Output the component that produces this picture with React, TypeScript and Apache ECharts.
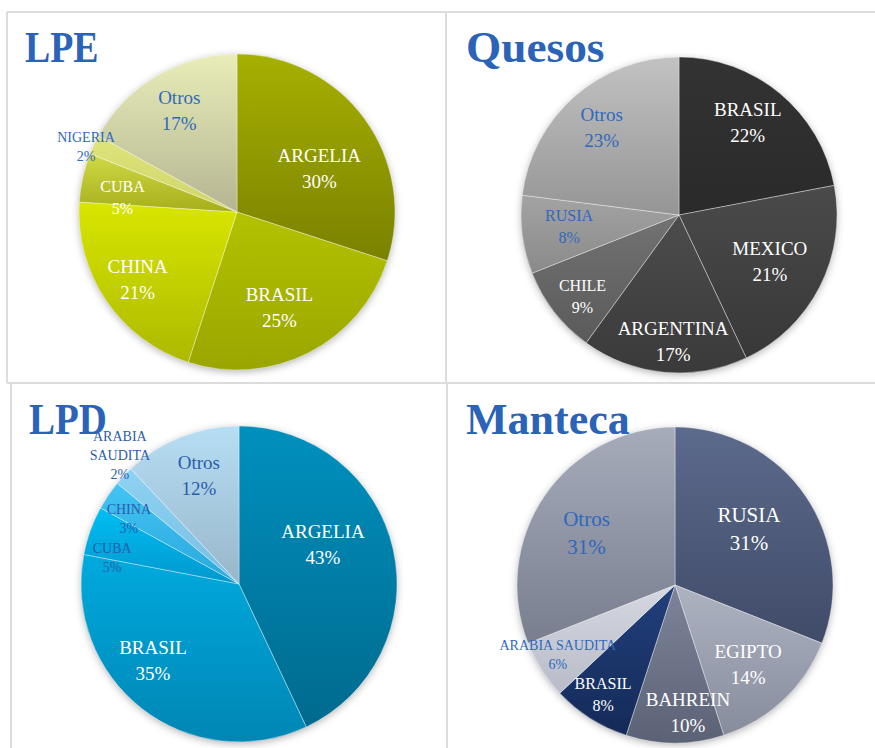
import React, { useEffect, useRef } from "react";
import * as echarts from "echarts";

// ---------- DATA ----------
const LPE_NAMES = ["ARGELIA", "BRASIL", "CHINA", "CUBA", "NIGERIA", "Otros"];
const LPE_VALUES = [30, 25, 21, 5, 2, 17];

const QUESOS_NAMES = ["BRASIL", "MEXICO", "ARGENTINA", "CHILE", "RUSIA", "Otros"];
const QUESOS_VALUES = [22, 21, 17, 9, 8, 23];

const LPD_NAMES = ["ARGELIA", "BRASIL", "CUBA", "CHINA", "ARABIA\nSAUDITA", "Otros"];
const LPD_VALUES = [43, 35, 5, 3, 2, 12];

const MANTECA_NAMES = ["RUSIA", "EGIPTO", "BAHREIN", "BRASIL", "ARABIA SAUDITA", "Otros"];
const MANTECA_VALUES = [31, 14, 10, 8, 6, 31];

const TITLES = ["LPE", "Quesos", "LPD", "Manteca"];

// ---------- STYLES ----------
const FONT = "'Liberation Serif', 'Times New Roman', serif";
const TITLE_COLOR = "#2a63b8";
const BLUE = "#2f68bd";
const WHITE = "#ffffff";
const R = 158;

const LPE_COLORS: [string, string][] = [
  ["#a6b000", "#7a8100"],
  ["#b3c200", "#9aa600"],
  ["#d9e600", "#acb900"],
  ["#d0d946", "#a6ae1c"],
  ["#dde47a", "#cfd56a"],
  ["#e8edb8", "#b5b592"],
];
const QUESOS_COLORS: [string, string][] = [
  ["#333333", "#2a2a2a"],
  ["#4a4a4a", "#383838"],
  ["#4c4c4c", "#3a3a3a"],
  ["#727272", "#5a5a5a"],
  ["#a3a3a3", "#8a8a8a"],
  ["#c2c2c2", "#959595"],
];
const LPD_COLORS: [string, string][] = [
  ["#0090be", "#006a8e"],
  ["#00aade", "#0086b4"],
  ["#00bef4", "#0098cc"],
  ["#42c4f4", "#2aa8dc"],
  ["#8fd2f2", "#78bee4"],
  ["#b6def4", "#98b6ca"],
];
const MANTECA_COLORS: [string, string][] = [
  ["#5c6a8c", "#404b68"],
  ["#aeb3c2", "#868c9c"],
  ["#7e8499", "#5c6276"],
  ["#22407c", "#142a58"],
  ["#d6d8e0", "#b8bcc8"],
  ["#a6acba", "#787e8e"],
];

// label style per slice: [fontSize, color]
const LPE_LABEL: [number, string][] = [[19, WHITE], [19, WHITE], [19, WHITE], [16, WHITE], [14, BLUE], [19, BLUE]];
const QUESOS_LABEL: [number, string][] = [[19, WHITE], [19, WHITE], [19, WHITE], [16, WHITE], [16, BLUE], [19, BLUE]];
const LPD_LABEL: [number, string][] = [[19, WHITE], [19, WHITE], [14, "#2a5cab"], [14, "#2a5cab"], [14, "#2a5cab"], [19, "#2a5cab"]];
const MANTECA_LABEL: [number, string][] = [[21, WHITE], [19, WHITE], [19, WHITE], [16, WHITE], [14, BLUE], [21, BLUE]];

// label placement per slice: [radius fraction, angle shift in degrees]
const LPE_PLACE: [number, number][] = [[0.59, 8], [0.66, 3], [0.76, 0], [0.73, -5.6], [1.04, -2], [0.74, 1]];
const QUESOS_PLACE: [number, number][] = [[0.73, -3], [0.645, 0], [0.8, -2.7], [0.8, -2.4], [0.7, 1], [0.74, 0]];
const LPD_PLACE: [number, number][] = [[0.587, -12.6], [0.727, 10.7], [0.82, -8], [0.81, -3.6], [1.11, 4], [0.735, 1.4]];
const MANTECA_PLACE: [number, number][] = [[0.587, -3], [0.683, 0.6], [0.81, -5.8], [0.827, 1], [0.865, 1.4], [0.65, -3.7]];

const CENTERS: [number, number][] = [
  [237, 212],
  [679, 215],
  [239, 584],
  [675, 585],
];
const TITLE_POS: [number, number][] = [
  [25, 47],
  [466, 47],
  [29, 419],
  [466, 419],
];
const TITLE_SCALE_X = [0.86, 1.03, 0.885, 1.0];

function buildSeries(
  names: string[],
  values: number[],
  colors: [string, string][],
  labels: [number, string][],
  place: [number, number][],
  center: [number, number]
) {
  const total = values.reduce((a, b) => a + b, 0);
  return {
    type: "pie",
    center,
    radius: R,
    startAngle: 90,
    clockwise: true,
    z: 3,
    label: {
      show: true,
      position: "inside",
      formatter: "{b}\n{d}%",
      fontFamily: FONT,
      align: "center",
    },
    labelLine: { show: false },
    labelLayout: (params: any) => {
      const i = params.dataIndex;
      let cum = 0;
      for (let k = 0; k < i; k++) cum += values[k];
      const mid = ((cum + values[i] / 2) / total) * 360 + place[i][1];
      const rad = (mid * Math.PI) / 180;
      return {
        x: center[0] + place[i][0] * R * Math.sin(rad),
        y: center[1] - place[i][0] * R * Math.cos(rad),
        align: "center",
        verticalAlign: "middle",
      };
    },
    itemStyle: {
      borderColor: "rgba(255,255,255,0.45)",
      borderWidth: 0.8,
    },
    emphasis: { disabled: true },
    data: names.map((n, i) => ({
      name: n,
      value: values[i],
      itemStyle: {
        color: new echarts.graphic.LinearGradient(0, 0, 0, 1, [
          { offset: 0, color: colors[i][0] },
          { offset: 1, color: colors[i][1] },
        ]),
      },
      label: {
        fontSize: labels[i][0],
        color: labels[i][1],
        lineHeight: Math.round(labels[i][0] * 1.35),
      },
    })),
  };
}

export default function App() {
  const ref = useRef<HTMLDivElement>(null);

  useEffect(() => {
    if (!ref.current) return;
    const chart = echarts.init(ref.current, undefined, { renderer: "svg" });

    const lineStyle = { stroke: "#dcdcdc", lineWidth: 2 };
    const borders = [
      { x1: 7, y1: 12, x2: 875, y2: 12 },
      { x1: 7, y1: 12, x2: 7, y2: 383 },
      { x1: 446, y1: 12, x2: 446, y2: 383 },
      { x1: 7, y1: 383, x2: 875, y2: 383 },
      { x1: 11, y1: 383, x2: 11, y2: 748 },
      { x1: 447, y1: 383, x2: 447, y2: 748 },
    ].map((s) => ({ type: "line", shape: s, style: lineStyle, z: 0, silent: true }));

    const shadows = CENTERS.map((c) => ({
      type: "circle",
      shape: { cx: c[0], cy: c[1], r: R - 1 },
      style: {
        fill: "#ffffff",
        shadowBlur: 8,
        shadowOffsetY: 2,
        shadowColor: "rgba(0,0,0,0.35)",
      },
      z: 0,
      silent: true,
    }));

    const titles = TITLES.map((t, i) => ({
      type: "text",
      x: TITLE_POS[i][0],
      y: TITLE_POS[i][1],
      scaleX: TITLE_SCALE_X[i],
      z: 10,
      style: {
        text: t,
        fill: TITLE_COLOR,
        font: `bold 44px ${FONT}`,
        verticalAlign: "middle",
        align: "left",
      },
    }));

    chart.setOption({
      animation: false,
      backgroundColor: "#ffffff",
      graphic: { elements: [...borders, ...shadows, ...titles] },
      series: [
        buildSeries(LPE_NAMES, LPE_VALUES, LPE_COLORS, LPE_LABEL, LPE_PLACE, CENTERS[0]),
        buildSeries(QUESOS_NAMES, QUESOS_VALUES, QUESOS_COLORS, QUESOS_LABEL, QUESOS_PLACE, CENTERS[1]),
        buildSeries(LPD_NAMES, LPD_VALUES, LPD_COLORS, LPD_LABEL, LPD_PLACE, CENTERS[2]),
        buildSeries(MANTECA_NAMES, MANTECA_VALUES, MANTECA_COLORS, MANTECA_LABEL, MANTECA_PLACE, CENTERS[3]),
      ],
    });

    return () => chart.dispose();
  }, []);

  return (
    <div
      ref={ref}
      style={{ position: "fixed", left: 0, top: 0, width: 875, height: 748, background: "#fff" }}
    />
  );
}
